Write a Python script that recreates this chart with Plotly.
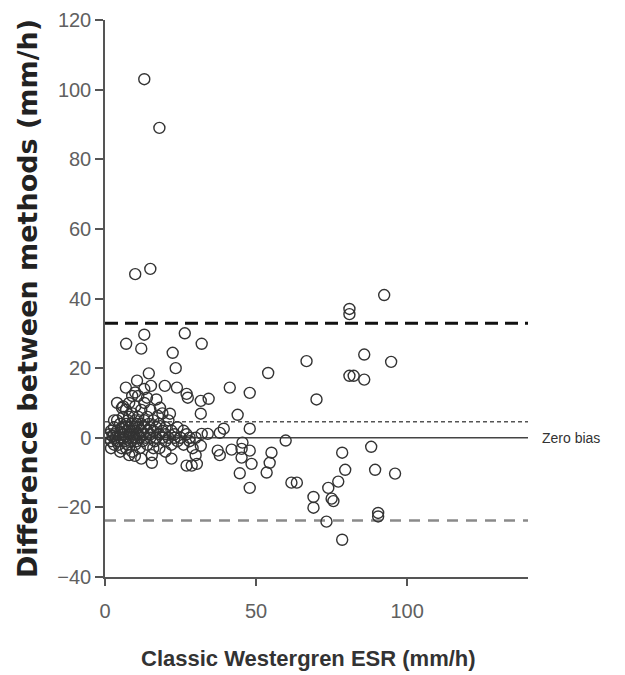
import plotly.graph_objects as go

# Classic Westergren ESR (x) vs difference between methods (y)
x_cluster = [1, 1.5, 2, 2, 2.5, 3, 3, 3, 3.5, 4, 4, 4, 4.5, 5, 5, 5, 5.5, 5.5, 6, 6, 6, 6, 6.5, 7, 7, 7, 7, 7, 7.5, 7.5,
             8, 8, 8, 8, 8, 8.5, 8.5, 9, 9, 9, 9, 9.5, 9.5, 10, 10, 10, 10, 10, 10.5, 10.5, 11, 11, 11, 11, 11.5, 11.5,
             12, 12, 12, 12.5, 12.5, 13, 13, 13, 13.5, 14, 14, 14, 14.5, 15, 15, 15, 15, 15.5, 16, 16, 16.5, 17, 17, 17,
             18, 18, 18, 19, 19, 19, 20, 20, 20, 21, 21, 22, 22, 23, 23, 24, 24, 25, 26, 26, 27, 28, 28, 29, 30, 30,
             12, 8, 16, 20, 22, 5, 3, 2, 6, 9, 13, 10]
y_cluster = [0, 1, -1, 2, 0.5, -2, 1, 3, 0, -1, 2, 5, -2, 0, 1.5, 4, -3, 2.5, 0, 1, 3, 6, -1, -3, 0.5, 2, 4, 8, -2, 5,
             0, 1, 3, 6, 10, -1, 2, -4, 0, 4, 7, 1, 3, -2, 0, 2, 5, 9, -1, 4, 1, 3, 6, 12, -3, 0,
             2, 4, 8, -1, 1, 3, 5, 10, 0, -2, 2, 6, 4, 0, 1, 3, 8, -5, 2, 5, -1, 0, 3, 11,
             1, -3, 4, 0, 2, 7, -1, 1, 3, 0, 5, -2, 2, 0, 1, -1, 3, 0, -2, 2, 1, -1, 0, -3, 0, -5,
             -6, -5, -3, -4, -6, -4, 5, -3, 9, 12, 14, 13]

x_spread = [13, 18, 10, 15, 7, 13, 12, 26.4, 22.4, 23.4, 32, 14.5, 10.6, 6.9, 19.8, 23.8, 27, 27.4, 31.7, 34.3,
            31.7, 4, 5.6, 15.2, 13.9, 18.2, 21.5, 17.5,
            54, 66.7, 92.4, 80.9, 80.9, 85.8, 94.7, 80.9, 82.3, 85.8, 70,
            41.3, 47.9, 43.9, 39.3, 47.9, 38, 34, 32, 59.8, 45.5, 31.7, 37.3, 38, 41.9, 45.2, 47.9, 55.1, 54.5, 45.2,
            48.5, 53.5, 44.6, 47.9, 61.7, 63.5, 30.4, 27, 28.7, 15.5, 9.9,
            78.5, 88.1, 79.5, 89.4, 96, 77.2, 73.9, 69, 75, 75.6, 69, 73.3, 90.4, 90.4, 78.5]
y_spread = [103, 89, 47, 48.5, 27, 29.6, 25.6, 30, 24.4, 20, 27, 18.5, 16.4, 14.4, 14.9, 14.4, 12.6, 11.5, 10.6, 11.2,
            6.9, 10, 8.6, 14.9, 11.5, 8.6, 6.9, 6.3,
            18.6, 22, 41, 37, 35.5, 23.9, 21.8, 17.8, 17.8, 16.7, 11,
            14.4, 12.9, 6.6, 2.6, 2.6, 1.4, 1.1, 1.1, -0.8, -1.4, -2.3, -3.7, -5, -3.4, -3.2, -3.7, -4.3, -7.2, -5.7,
            -7.5, -10, -10.2, -14.4, -12.9, -12.9, -7.5, -8, -8, -7.2, -5.2,
            -4.3, -2.6, -9.2, -9.2, -10.3, -12.6, -14.4, -17, -17.5, -18.2, -20.1, -24.1, -21.6, -22.6, -29.3]

x_all = x_cluster + x_spread
y_all = y_cluster + y_spread

mean_bias = 4.6
upper_loa = 32.9
lower_loa = -23.8
zero_bias = 0
x_range = [0, 140]
y_range = [-40, 120]
x_ticks = [0, 50, 100]
y_ticks = [-40, -20, 0, 20, 40, 60, 80, 100, 120]

fig = go.Figure()

fig.add_trace(go.Scatter(
    x=x_all, y=y_all, mode="markers",
    marker=dict(symbol="circle-open", size=11, color="#333333", line=dict(width=1.4, color="#333333")),
    showlegend=False, hoverinfo="skip"))

line_defs = [
    (zero_bias, dict(color="#444444", width=1.5, dash="solid")),
    (mean_bias, dict(color="#555555", width=1.3, dash="4px,3px")),
    (upper_loa, dict(color="#111111", width=3, dash="13px,7px")),
    (lower_loa, dict(color="#8a8a8a", width=2.5, dash="11px,8px")),
]
for yv, ln in line_defs:
    fig.add_shape(type="line", xref="x", yref="y", x0=x_range[0], x1=x_range[1], y0=yv, y1=yv,
                  line=ln, layer="below")

fig.add_annotation(x=x_range[1], y=zero_bias, xref="x", yref="y", text="Zero bias", showarrow=False,
                   xanchor="left", yanchor="middle", xshift=12,
                   font=dict(family="Liberation Sans, Arial, sans-serif", size=14, color="#333333"))

# x-axis title as annotation for precise placement
fig.add_annotation(x=0.482, y=0, xref="paper", yref="paper", text="Classic Westergren ESR (mm/h)",
                   showarrow=False, xanchor="center", yanchor="top", yshift=-67,
                   font=dict(family="Liberation Sans, Arial, sans-serif", size=22, color="#333333",
                             weight="bold"))

tick_font = dict(family="Liberation Sans, Arial, sans-serif", size=20, color="#606060")

fig.update_xaxes(range=x_range, tickvals=x_ticks, showgrid=False, zeroline=False, automargin=False,
                 showline=True, linecolor="#555555", linewidth=1.5,
                 ticks="outside", ticklen=7, tickcolor="#555555", tickwidth=1.5,
                 ticklabelstandoff=8, tickfont=tick_font)
fig.update_yaxes(range=y_range, tickvals=y_ticks, showgrid=False, zeroline=False, automargin=False,
                 showline=True, linecolor="#555555", linewidth=1.5,
                 ticks="outside", ticklen=8, tickcolor="#555555", tickwidth=1.5,
                 tickfont=tick_font,
                 title=dict(text="Difference between methods (mm/h)", standoff=12,
                            font=dict(family="DejaVu Sans, sans-serif", size=27, color="#222222",
                                      weight="bold")))

fig.update_layout(width=617, height=667, margin=dict(l=97, r=97, t=12, b=98),
                  plot_bgcolor="white", paper_bgcolor="white")

fig.write_html("out.html")
